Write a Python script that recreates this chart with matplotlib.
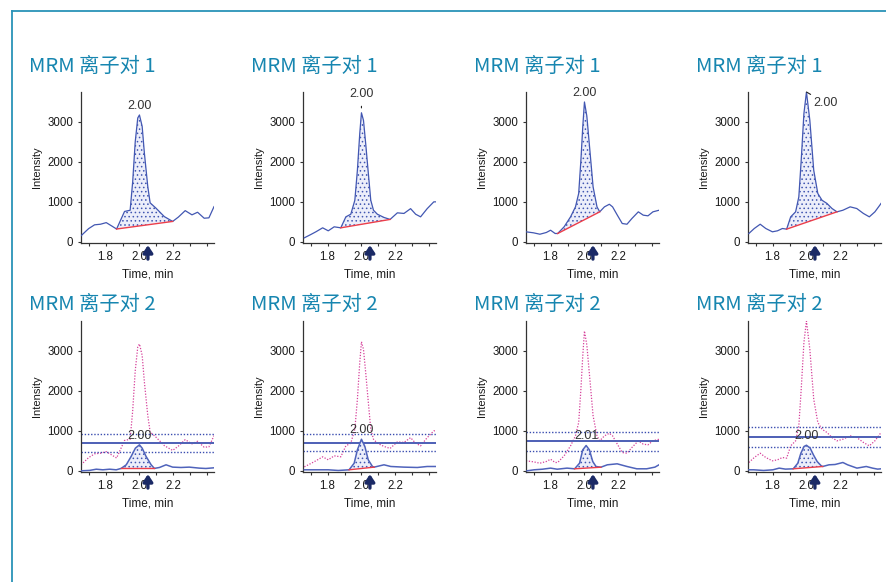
import numpy as np
import matplotlib
matplotlib.use("Agg")
import matplotlib.pyplot as plt
from matplotlib.lines import Line2D
from matplotlib.ticker import FixedLocator, MultipleLocator

plt.rcParams['font.family'] = ['Liberation Sans', 'DejaVu Sans']
plt.rcParams['hatch.linewidth'] = 0.6

# ---------------- ion pair 1 (quantifier) chromatograms ----------------
time_q1_a = [1.655, 1.70, 1.735, 1.77, 1.804, 1.838, 1.865, 1.912, 1.945, 1.96, 1.975, 1.99,
             2.00, 2.016, 2.029, 2.049, 2.063, 2.098, 2.147, 2.196, 2.23, 2.27, 2.31, 2.343,
             2.382, 2.41, 2.44]
int_q1_a = [150, 330, 425, 440, 480, 392, 320, 760, 790, 1500, 2500, 3100,
            3175, 2890, 2225, 1390, 975, 840, 630, 510, 620, 780, 675, 740,
            590, 600, 880]

time_q1_b = [1.663, 1.70, 1.731, 1.771, 1.804, 1.839, 1.878, 1.908, 1.937, 1.961, 1.976, 1.99,
             2.00, 2.012, 2.025, 2.039, 2.055, 2.071, 2.094, 2.133, 2.169, 2.212, 2.251, 2.29,
             2.32, 2.349, 2.388, 2.427, 2.44]
int_q1_b = [100, 180, 250, 350, 275, 375, 350, 625, 690, 1040, 1790, 2710,
            3230, 3040, 2460, 1790, 1040, 790, 690, 610, 560, 725, 710, 830,
            690, 625, 830, 1000, 1000]

time_q1_c = [1.655, 1.699, 1.737, 1.775, 1.80, 1.827, 1.842, 1.88, 1.918, 1.947, 1.966, 1.979,
             1.99, 2.00, 2.014, 2.032, 2.051, 2.074, 2.09, 2.118, 2.147, 2.166, 2.194, 2.223,
             2.251, 2.28, 2.318, 2.347, 2.375, 2.404, 2.44]
int_q1_c = [250, 225, 190, 233, 290, 208, 208, 375, 625, 875, 1210, 2040,
            2875, 3500, 3150, 2290, 1375, 875, 750, 875, 940, 875, 667, 458,
            440, 583, 750, 667, 650, 750, 790]

time_q1_d = [1.66, 1.692, 1.727, 1.76, 1.799, 1.829, 1.858, 1.883, 1.907, 1.936, 1.955, 1.969,
             1.985, 2.00, 2.02, 2.043, 2.067, 2.092, 2.121, 2.151, 2.18, 2.215, 2.258, 2.297,
             2.336, 2.371, 2.404, 2.433, 2.44]
int_q1_d = [208, 333, 440, 333, 250, 275, 333, 317, 625, 750, 1125, 2040,
            3210, 3750, 3040, 1790, 1210, 1040, 960, 833, 750, 790, 875, 833,
            710, 625, 750, 917, 960]

# ---------------- ion pair 2 (qualifier) chromatograms ----------------
time_q2_a = [1.657, 1.706, 1.745, 1.784, 1.824, 1.863, 1.892, 1.922, 1.951, 1.976, 2.00, 2.016,
             2.039, 2.069, 2.088, 2.118, 2.157, 2.196, 2.245, 2.294, 2.353, 2.392, 2.44]
int_q2_a = [0, 10, 40, 25, 40, 25, 60, 150, 360, 567, 650, 567,
            360, 150, 60, 83, 150, 92, 83, 92, 67, 58, 75]

time_q2_b = [1.663, 1.73, 1.804, 1.863, 1.927, 1.957, 1.976, 2.00, 2.02, 2.04, 2.065, 2.075,
             2.133, 2.173, 2.25, 2.33, 2.388, 2.44]
int_q2_b = [25, 25, 25, 8, 25, 190, 525, 790, 610, 275, 108, 92,
            150, 108, 92, 83, 108, 108]

time_q2_c = [1.661, 1.703, 1.752, 1.80, 1.839, 1.897, 1.942, 1.971, 1.99, 2.01, 2.029, 2.049,
             2.068, 2.097, 2.135, 2.193, 2.251, 2.309, 2.367, 2.416, 2.44]
int_q2_c = [0, 25, 40, 67, 40, 67, 50, 190, 525, 633, 525, 233,
            108, 90, 150, 175, 108, 50, 50, 92, 150]

time_q2_d = [1.66, 1.689, 1.747, 1.802, 1.839, 1.876, 1.922, 1.949, 1.967, 1.986, 2.00, 2.022,
             2.041, 2.063, 2.087, 2.096, 2.133, 2.169, 2.215, 2.243, 2.298, 2.353, 2.39, 2.42,
             2.44]
int_q2_d = [25, 25, 8, 25, 67, 42, 50, 190, 440, 610, 640, 567,
            400, 233, 125, 108, 150, 158, 208, 150, 67, 108, 67, 42,
            50]

# integration windows (start, end), min
windows_q1 = [(1.865, 2.196), (1.878, 2.169), (1.842, 2.09), (1.883, 2.18)]
windows_q2 = [(1.892, 2.088), (1.927, 2.075), (1.942, 2.097), (1.922, 2.096)]

# retention time labels
rt_q1 = ["2.00", "2.00", "2.00", "2.00"]
rt_q2 = ["2.00", "2.00", "2.01", "2.00"]

# ion ratio acceptance lines (expected, upper, lower) in intensity units
ratio_mid = [708, 708, 758, 850]
ratio_hi = [925, 925, 983, 1090]
ratio_lo = [483, 508, 508, 592]

titles = ["MRM 离子对 1", "MRM 离子对 2"]
x_ticks = [1.8, 2.0, 2.2]
x_ticklabels = ["1.8", "2.0", "2.2"]
y_ticks = [0, 1000, 2000, 3000]
marker_time = 2.05

q1_sets = [(time_q1_a, int_q1_a), (time_q1_b, int_q1_b), (time_q1_c, int_q1_c), (time_q1_d, int_q1_d)]
q2_sets = [(time_q2_a, int_q2_a), (time_q2_b, int_q2_b), (time_q2_c, int_q2_c), (time_q2_d, int_q2_d)]

# ---------------- styling ----------------
W, H = 886, 582
AX_W, AX_H = 133, 151
COL_LEFT = [81, 303, 526, 748]
ROW_BOTTOM = [243, 472]
TITLE_Y = [66, 304]
TEAL = '#1786b0'
TRACE = '#4257b2'
BASE = '#ec3e4a'
PINK = '#d6409a'
NAVY = '#1b2a66'
TEXT = '#1a1a1a'

fig = plt.figure(figsize=(W / 100, H / 100), dpi=100)
fig.patch.set_facecolor('white')

fig.add_artist(Line2D([12 / W, 1.0], [1 - 11 / H, 1 - 11 / H], color='#2a93b8', lw=1.3))
fig.add_artist(Line2D([12 / W, 12 / W], [1 - 11 / H, 0.0], color='#2a93b8', lw=1.3))


def make_axes(col, row):
    left = COL_LEFT[col]
    bottom = ROW_BOTTOM[row]
    ax = fig.add_axes([left / W, (H - bottom) / H, AX_W / W, AX_H / H])
    ax.set_xlim(1.655, 2.44)
    ax.set_ylim(-30, 3750)
    ax.patch.set_alpha(0)
    for s in ('top', 'right'):
        ax.spines[s].set_visible(False)
    for s in ('left', 'bottom'):
        ax.spines[s].set_linewidth(0.9)
        ax.spines[s].set_color('#333333')
    ax.xaxis.set_major_locator(FixedLocator(x_ticks))
    ax.set_xticklabels(x_ticklabels)
    ax.xaxis.set_minor_locator(MultipleLocator(0.1))
    ax.yaxis.set_major_locator(FixedLocator(y_ticks))
    ax.tick_params(axis='both', which='major', direction='out', length=2.5, width=0.8,
                   labelsize=8.3, pad=3, colors='#333333', labelcolor=TEXT)
    ax.tick_params(axis='x', which='minor', direction='out', length=2, width=0.8, colors='#333333')
    ax.set_xlabel('Time, min', fontsize=8.5, labelpad=4, color=TEXT)
    ax.set_ylabel('Intensity', fontsize=8, labelpad=4, color=TEXT)
    fig.text((left - 52) / W, 1 - TITLE_Y[row] / H, titles[row], fontsize=14.6, color=TEAL,
             ha='left', va='center', fontweight='medium',
             family=['Noto Sans CJK SC', 'DejaVu Sans'])
    return ax


def draw_peak(ax, t, y, window, color, zorder=3):
    t = np.asarray(t, float)
    y = np.asarray(y, float)
    m = (t >= window[0] - 1e-9) & (t <= window[1] + 1e-9)
    ax.fill(t[m], y[m], facecolor='#eceefa', edgecolor=color, hatch='....', lw=0, zorder=zorder - 1)
    ax.plot([t[m][0], t[m][-1]], [y[m][0], y[m][-1]], color=BASE, lw=1.0, zorder=zorder + 1)


def draw_marker(ax):
    ax.annotate('', xy=(marker_time, -85), xytext=(0, -10), textcoords='offset points',
                arrowprops=dict(arrowstyle='-|>,head_width=0.28,head_length=0.42', lw=2.4,
                                color=NAVY, shrinkA=0, shrinkB=0),
                annotation_clip=False)


label_offsets = [((0, 6.5), 'center', None),
                 ((0, 13.5), 'center', dict(arrowstyle='-', color='#222222', lw=0.8, shrinkA=2.5, shrinkB=3.5)),
                 ((0, 6.5), 'center', None),
                 ((5, -8), 'left', dict(arrowstyle='-', color='#222222', lw=0.8, shrinkA=0, shrinkB=0))]

for i in range(4):
    # ion pair 1
    ax = make_axes(i, 0)
    t, y = q1_sets[i]
    ax.plot(t, y, color=TRACE, lw=0.9, zorder=3)
    draw_peak(ax, t, y, windows_q1[i], TRACE)
    draw_marker(ax)
    rt = float(rt_q1[i])
    off, ha, lead = label_offsets[i]
    ax.annotate(rt_q1[i], xy=(rt, max(y)), xytext=off, textcoords='offset points',
                ha=ha, va='center', fontsize=9, color='#333333', arrowprops=lead, zorder=6)

    # ion pair 2 with ion pair 1 overlay and ratio tolerance lines
    ax = make_axes(i, 1)
    ax.plot(t, y, color=PINK, lw=0.9, ls=(0, (1, 1.3)), zorder=2)
    ax.axhline(ratio_hi[i], color='#3a4db0', lw=1.0, ls=(0, (1, 1.3)), zorder=2)
    ax.axhline(ratio_lo[i], color='#3a4db0', lw=1.0, ls=(0, (1, 1.3)), zorder=2)
    ax.axhline(ratio_mid[i], color='#4d5fb5', lw=1.4, zorder=2)
    t2, y2 = q2_sets[i]
    ax.plot(t2, y2, color='#4f63bb', lw=1.1, zorder=3)
    draw_peak(ax, t2, y2, windows_q2[i], TRACE)
    draw_marker(ax)
    rt2 = float(rt_q2[i])
    ax.annotate(rt_q2[i], xy=(rt2, max(y2)), xytext=(0, 6.5), textcoords='offset points',
                ha='center', va='center', fontsize=9, color='#333333', zorder=6)

fig.savefig('out.png', dpi=100, facecolor='white')
